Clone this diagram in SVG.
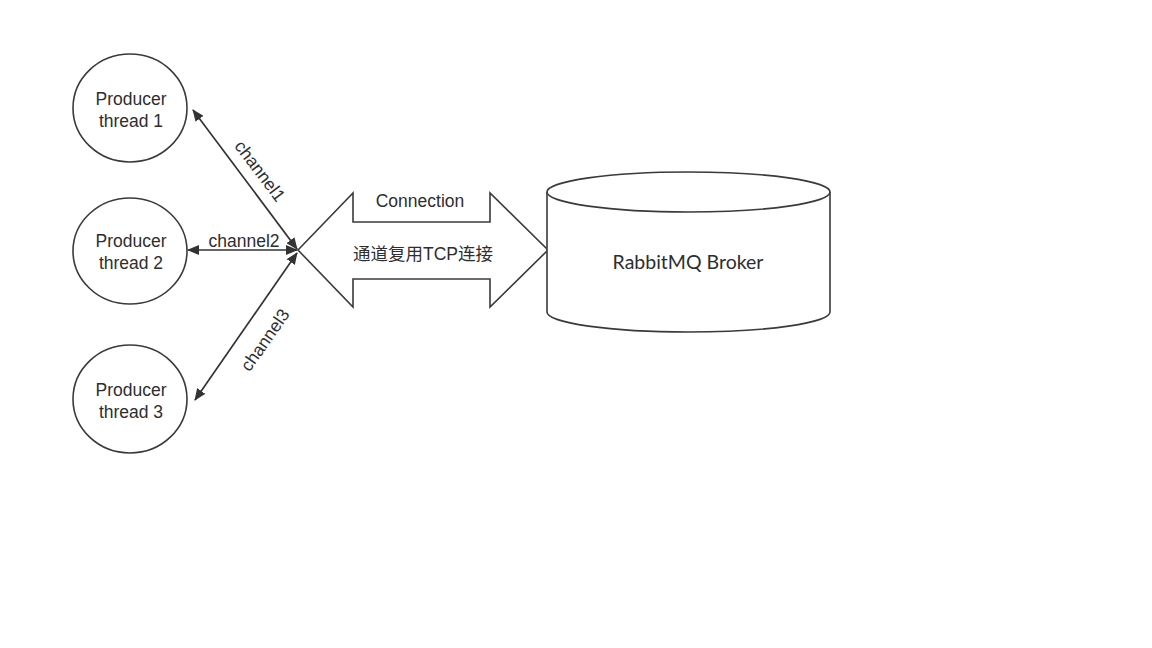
<svg xmlns="http://www.w3.org/2000/svg" width="1152" height="648" viewBox="0 0 1152 648">
<style>
.shape{fill:#fff;stroke:#3a3a3a;stroke-width:1.6}
.lbl{font-family:"Liberation Sans","Noto Sans CJK SC",sans-serif;font-size:17.5px;fill:#2e2e2e;text-anchor:middle}
.conn{stroke:#333;stroke-width:1.7;fill:none;marker-start:url(#ah);marker-end:url(#ah)}
.broker{font-family:Lato,"Open Sans",sans-serif;font-size:19.5px;fill:#2e2e2e;text-anchor:middle}
</style>
<defs>
<marker id="ah" viewBox="0 0 12 10" refX="11" refY="5" markerWidth="12" markerHeight="10" markerUnits="userSpaceOnUse" orient="auto-start-reverse">
<path d="M0,0 L12,5 L0,10 Z" fill="#333"/>
</marker>
</defs>
<rect width="1152" height="648" fill="#fff"/>
<g id="producer1">
<ellipse class="shape" cx="130" cy="108" rx="57" ry="54"/>
<text class="lbl" x="131" y="105">Producer</text>
<text class="lbl" x="131" y="127">thread 1</text>
</g>
<g id="producer2">
<ellipse class="shape" cx="130" cy="251" rx="57" ry="53"/>
<text class="lbl" x="131" y="247">Producer</text>
<text class="lbl" x="131" y="269">thread 2</text>
</g>
<g id="producer3">
<ellipse class="shape" cx="130" cy="399" rx="57" ry="54"/>
<text class="lbl" x="131" y="396">Producer</text>
<text class="lbl" x="131" y="418">thread 3</text>
</g>
<g id="connection">
<polygon class="shape" points="298,250 353,193 353,222 490,222 490,193 548,250 490,307 490,279 353,279 353,307"/>
<text class="lbl" x="420" y="207">Connection</text>
<text class="lbl" x="423" y="260">通道复用TCP连接</text>
</g>
<g id="broker">
<path class="shape" d="M547,192 L547,312 A141.5,20 0 0 0 830,312 L830,192"/>
<ellipse class="shape" cx="688.5" cy="192" rx="141.5" ry="20"/>
<text class="broker" x="688" y="269">RabbitMQ Broker</text>
</g>
<g id="connectors">
<line class="conn" x1="193" y1="110" x2="297" y2="249"/>
<line class="conn" x1="188" y1="250" x2="297" y2="250"/>
<line class="conn" x1="297" y1="253" x2="195" y2="400"/>
<text class="lbl" transform="translate(260,171) rotate(53)" x="0" y="6">channel1</text>
<text class="lbl" x="244" y="247">channel2</text>
<text class="lbl" transform="translate(265,340) rotate(-55)" x="0" y="6">channel3</text>
</g>
</svg>
